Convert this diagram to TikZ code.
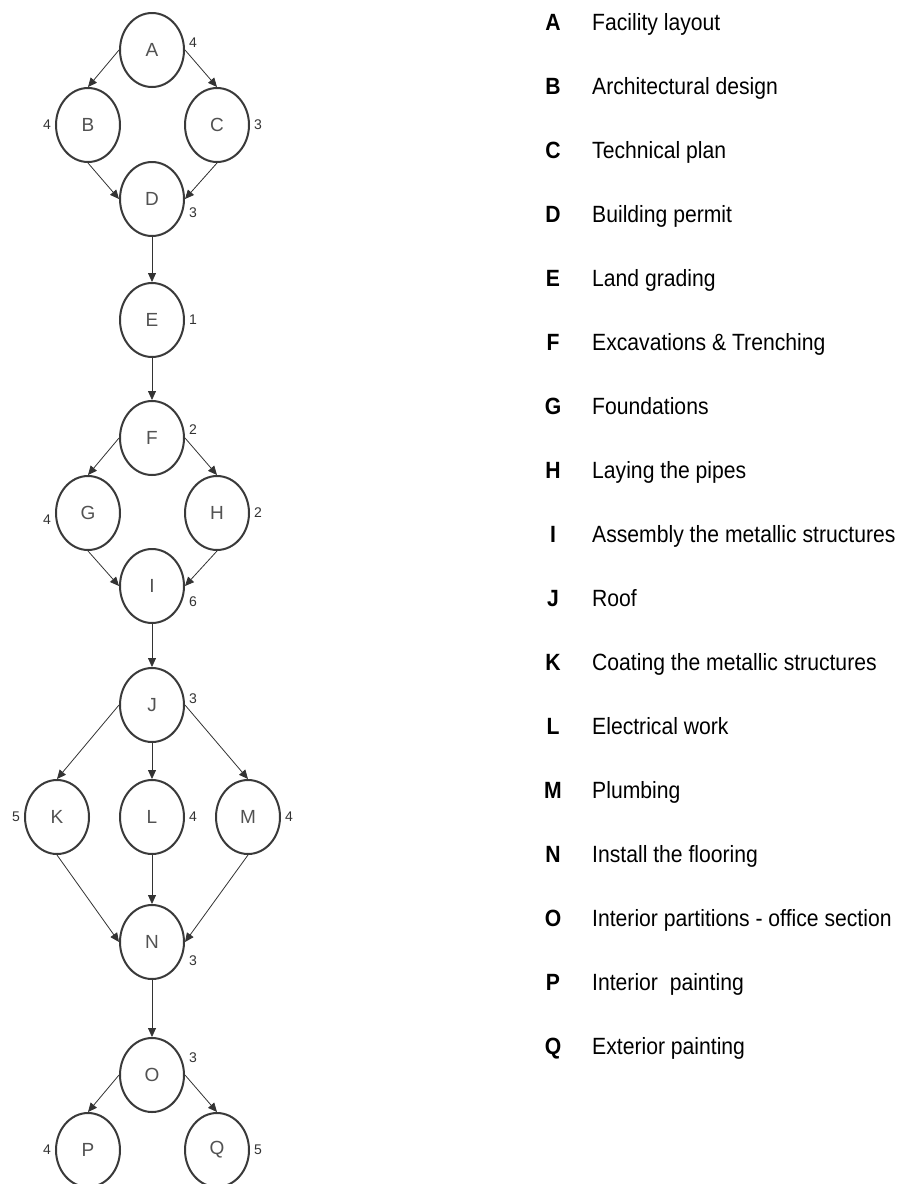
\documentclass[tikz,border=0pt]{standalone}
\usepackage{fontspec}
\setmainfont{Liberation Sans}
\newfontfamily\legendfont[FakeStretch=0.9]{Liberation Sans}
\usetikzlibrary{arrows.meta, shapes.geometric}
\definecolor{ink}{HTML}{333333}
\definecolor{rim}{HTML}{3A3A3A}

\begin{document}
\begin{tikzpicture}[x=1pt, y=-1pt,
      task/.style={ellipse, draw=rim, line width=2pt, fill=white,
                   minimum width=64pt, minimum height=74pt, inner sep=0pt,
                   font=\fontsize{19}{19}\selectfont, text=ink!85},
      dur/.style={font=\fontsize{14}{14}\selectfont, text=ink, inner sep=1pt},
      every label/.style={dur}, label distance=3pt,
      arr/.style={-{Triangle[length=9pt, width=8pt]}, line width=0.8pt, draw=ink},
      legkey/.style={anchor=base, inner sep=0pt,
                     font=\legendfont\bfseries\fontsize{23.5}{28}\selectfont},
      legtext/.style={anchor=base west, inner sep=0pt,
                      font=\legendfont\fontsize{23.5}{28}\selectfont}]

    \useasboundingbox[fill=white] (0,0) rectangle (909,1184);

    % activity network
    \node[task, label={[yshift=7pt]east:4}]   (A) at (152,50)   {A};
    \node[task, label={west:4}]               (B) at (88,125)   {B};
    \node[task, label={east:3}]               (C) at (217,125)  {C};
    \node[task, label={[yshift=-14pt]east:3}] (D) at (152,199)  {D};
    \node[task, label={east:1}]               (E) at (152,320)  {E};
    \node[task, label={[yshift=8pt]east:2}]   (F) at (152,438)  {F};
    \node[task, label={[yshift=-7pt]west:4}]  (G) at (88,513)   {G};
    \node[task, label={east:2}]               (H) at (217,513)  {H};
    \node[task, label={[yshift=-16pt]east:6}] (I) at (152,586)  {I};
    \node[task, label={[yshift=6pt]east:3}]   (J) at (152,705)  {J};
    \node[task, label={west:5}]               (K) at (57,817)   {K};
    \node[task, label={east:4}]               (L) at (152,817)  {L};
    \node[task, label={east:4}]               (M) at (248,817)  {M};
    \node[task, label={[yshift=-19pt]east:3}] (N) at (152,942)  {N};
    \node[task, label={[yshift=17pt]east:3}]  (O) at (152,1075) {O};
    \node[task, label={west:4}]               (P) at (88,1150)  {P};
    \node[task, label={east:5}]               (Q) at (217,1150) {Q};

    \draw[arr] (A.west)  -- (B.north);
    \draw[arr] (A.east)  -- (C.north);
    \draw[arr] (B.south) -- (D.west);
    \draw[arr] (C.south) -- (D.east);
    \draw[arr] (D) -- (E);
    \draw[arr] (E) -- (F);
    \draw[arr] (F.west)  -- (G.north);
    \draw[arr] (F.east)  -- (H.north);
    \draw[arr] (G.south) -- (I.west);
    \draw[arr] (H.south) -- (I.east);
    \draw[arr] (I) -- (J);
    \draw[arr] (J.west)  -- (K.north);
    \draw[arr] (J) -- (L);
    \draw[arr] (J.east)  -- (M.north);
    \draw[arr] (K.south) -- (N.west);
    \draw[arr] (L) -- (N);
    \draw[arr] (M.south) -- (N.east);
    \draw[arr] (N) -- (O);
    \draw[arr] (O.west)  -- (P.north);
    \draw[arr] (O.east)  -- (Q.north);

    % legend
    \foreach \l/\t [count=\i from 0] in {A/Facility layout, B/Architectural design,
        C/Technical plan, D/Building permit, E/Land grading,
        F/Excavations \& Trenching, G/Foundations, H/Laying the pipes,
        I/Assembly the metallic structures, J/Roof,
        K/Coating the metallic structures, L/Electrical work, M/Plumbing,
        N/Install the flooring, O/Interior partitions - office section,
        P/Interior~~painting, Q/Exterior painting} {
      \node[legkey]  (key\l)  at (553,{30.5+64*\i}) {\l};
      \node[legtext] (desc\l) at (592,{30.5+64*\i}) {\t};
    }
  \end{tikzpicture}
\end{document}
